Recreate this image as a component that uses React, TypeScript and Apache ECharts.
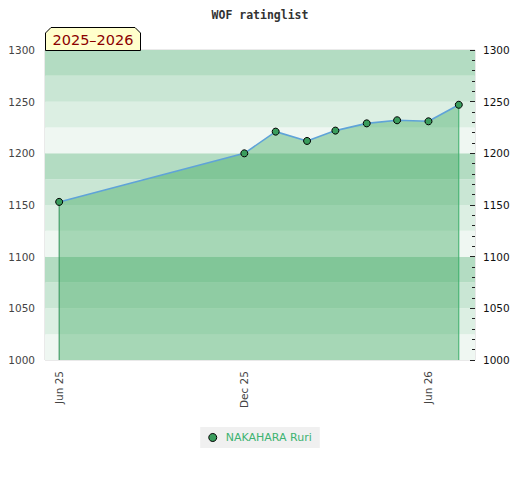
import React, { useEffect, useRef } from "react";
import * as echarts from "echarts";

const playerName = "NAKAHARA Ruri";
const dates = [
  "2025-06-01",
  "2025-12-01",
  "2026-01-01",
  "2026-02-01",
  "2026-03-01",
  "2026-04-01",
  "2026-05-01",
  "2026-06-01",
  "2026-07-01",
];
const ratings = [1153, 1200, 1221, 1212, 1222, 1229, 1232, 1231, 1247];
const xLabelDates = ["2025-06-01", "2025-12-01", "2026-06-01"];
const seasonLabel = "2025–2026";
const titleText = "WOF ratinglist";
const monthNames = ["Jan", "Feb", "Mar", "Apr", "May", "Jun", "Jul", "Aug", "Sep", "Oct", "Nov", "Dec"];

const ts = (s: string) => {
  const [y, m, d] = s.split("-").map(Number);
  return Date.UTC(y, m - 1, d);
};

export default function App() {
  const ref = useRef<HTMLDivElement>(null);
  useEffect(() => {
    if (!ref.current) return;
    const chart = echarts.init(ref.current, undefined, { renderer: "svg" });
    const data = dates.map((d, i) => [ts(d), ratings[i]]);
    const first = data[0];
    const last = data[data.length - 1];
    const edgeSeries = (pt: number[], color: string) => ({
      type: "line",
      yAxisIndex: 0,
      data: [
        [pt[0], 1000],
        [pt[0], pt[1]],
      ],
      symbol: "none",
      silent: true,
      lineStyle: { color, width: 1 },
      z: 2,
    });
    chart.setOption({
      animation: false,
      backgroundColor: "#fff",
      title: {
        text: titleText,
        left: "center",
        top: 4,
        textStyle: { fontFamily: "DejaVu Sans Mono", fontWeight: "bold", fontSize: 11.5, color: "#333" },
      },
      grid: {
        left: 45,
        right: 45,
        top: 50,
        bottom: 120,
        show: true,
        borderColor: "#d4d4d4",
        borderWidth: 1,
        backgroundColor: "transparent",
      },
      legend: {
        data: [playerName],
        top: 427,
        left: "center",
        backgroundColor: "#f0f0f0",
        padding: [5, 8, 5, 8],
        itemWidth: 8,
        itemHeight: 8,
        icon: "circle",
        itemStyle: { color: "#3a9d5d", borderColor: "#000", borderWidth: 1 },
        textStyle: { color: "#3cb371", fontSize: 11, fontFamily: "DejaVu Sans", padding: [0, 0, 0, 4] },
      },
      xAxis: {
        type: "value",
        min: ts("2025-05-18"),
        max: ts("2026-07-17"),
        axisLine: { show: false },
        axisTick: { show: false },
        splitLine: { show: false },
        axisLabel: {
          customValues: xLabelDates.map(ts),
          rotate: 90,
          margin: 11,
          fontSize: 10.5,
          fontFamily: "DejaVu Sans",
          color: "#444",
          formatter: (v: number) => {
            const d = new Date(v);
            return `${monthNames[d.getUTCMonth()]} ${String(d.getUTCFullYear()).slice(2)}`;
          },
        },
      },
      yAxis: [
        {
          type: "value",
          position: "left",
          min: 1000,
          max: 1300,
          interval: 25,
          axisLine: { show: false },
          axisTick: { show: false },
          splitLine: { show: false },
          splitArea: {
            show: true,
            areaStyle: { color: ["#eff7f2", "#dcefe3", "#c9e6d4", "#b3dcc2"] },
          },
          axisLabel: {
            margin: 10,
            fontSize: 10.5,
            fontFamily: "DejaVu Sans",
            color: "#444",
            formatter: (v: number) => (v % 50 === 0 ? String(v) : ""),
          },
        },
        {
          type: "value",
          position: "right",
          min: 1000,
          max: 1300,
          interval: 50,
          axisLine: { show: false },
          axisTick: { show: true, inside: true, length: 5, lineStyle: { color: "#222" } },
          minorTick: { show: true, splitNumber: 5, length: 3, lineStyle: { color: "#222" } },
          splitLine: { show: false },
          axisLabel: {
            margin: 8,
            fontSize: 10.5,
            fontFamily: "DejaVu Sans",
            color: "#111",
            formatter: (v: number) => String(v),
          },
        },
      ],
      series: [
        {
          name: playerName,
          type: "line",
          yAxisIndex: 0,
          data,
          symbol: "circle",
          symbolSize: 7,
          lineStyle: { color: "#5fa3d8", width: 1.6 },
          itemStyle: { color: "#3a9d5d", borderColor: "#000", borderWidth: 1 },
          areaStyle: { color: "rgba(50,165,85,0.55)", origin: "start" },
          z: 3,
        },
        edgeSeries(first, "#2e8b57"),
        edgeSeries(last, "#3cb371"),
      ],
      graphic: [
        {
          type: "polygon",
          shape: {
            points: [
              [45.5, 50.5],
              [45.5, 33],
              [51, 27.5],
              [135, 27.5],
              [140.5, 33],
              [140.5, 50.5],
            ],
          },
          style: { fill: "#ffffcc", stroke: "#000", lineWidth: 1 },
          z: 100,
        },
        {
          type: "text",
          x: 93,
          y: 40,
          style: {
            text: seasonLabel,
            fill: "#8b0000",
            font: "14.5px 'DejaVu Sans'",
            textAlign: "center",
            textVerticalAlign: "middle",
          },
          z: 101,
        },
      ],
    });
    return () => chart.dispose();
  }, []);
  return (
    <div
      ref={ref}
      style={{ position: "absolute", left: 0, top: 0, width: 520, height: 480, background: "#fff" }}
    />
  );
}
